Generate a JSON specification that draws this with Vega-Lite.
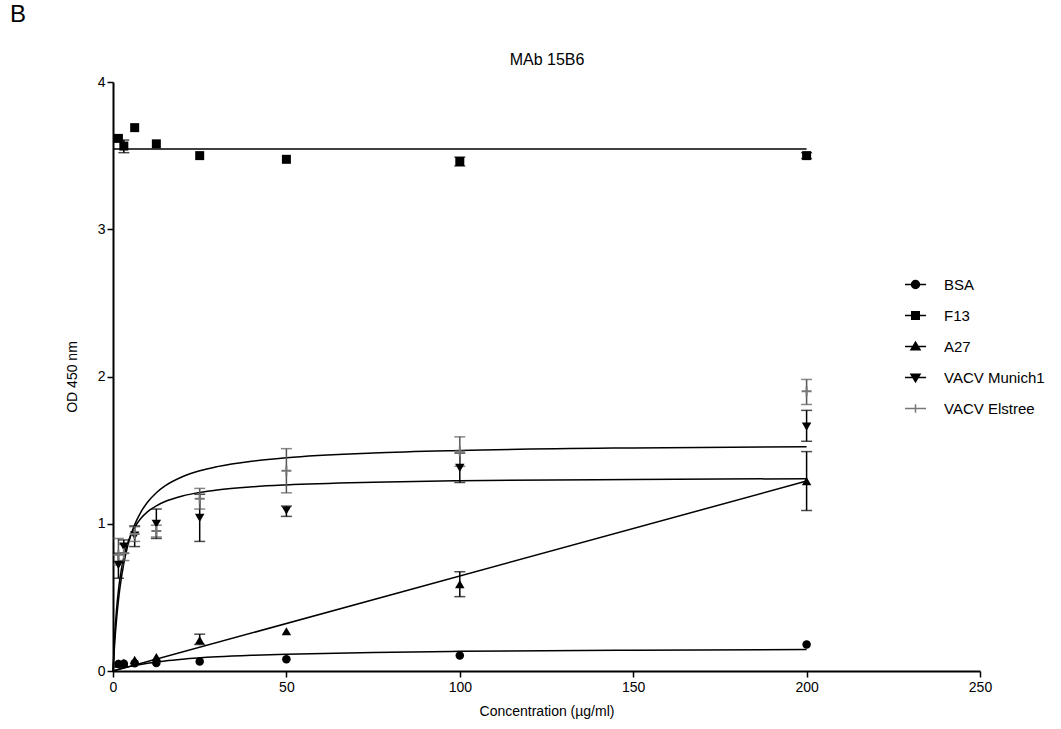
{
  "$schema": "https://vega.github.io/schema/vega-lite/v6.json",
  "autosize": {"type": "none"},
  "padding": {"left": 113, "top": 82, "right": 81, "bottom": 58},
  "width": 867,
  "height": 589,
  "background": "white",
  "config": {
    "font": "Liberation Sans",
    "view": {"stroke": null},
    "axis": {
      "grid": false,
      "domainColor": "black",
      "domainWidth": 2,
      "tickColor": "black",
      "tickWidth": 1.5,
      "tickSize": 6,
      "labelFont": "Liberation Sans",
      "labelFontSize": 14,
      "labelColor": "black",
      "titleFont": "Liberation Sans",
      "titleFontSize": 14,
      "titleFontWeight": "normal",
      "titleColor": "black"
    },
    "legend": {
      "labelFont": "Liberation Sans",
      "labelFontSize": 15,
      "labelColor": "black"
    }
  },
  "title": {
    "text": "B",
    "anchor": "start",
    "frame": "group",
    "fontSize": 24,
    "fontWeight": "normal",
    "color": "black",
    "font": "Liberation Sans",
    "dx": -103,
    "offset": 24
  },
  "datasets": {
    "points": [
      {"series": "BSA", "conc": 1.5625, "od": 0.048},
      {"series": "BSA", "conc": 3.125, "od": 0.05},
      {"series": "BSA", "conc": 6.25, "od": 0.052},
      {"series": "BSA", "conc": 12.5, "od": 0.055},
      {"series": "BSA", "conc": 25, "od": 0.065},
      {"series": "BSA", "conc": 50, "od": 0.08},
      {"series": "BSA", "conc": 100, "od": 0.105},
      {"series": "BSA", "conc": 200, "od": 0.18},
      {"series": "F13", "conc": 1.5625, "od": 3.617},
      {"series": "F13", "conc": 3.125, "od": 3.565, "lo": 3.52, "hi": 3.606},
      {"series": "F13", "conc": 6.25, "od": 3.69},
      {"series": "F13", "conc": 12.5, "od": 3.58},
      {"series": "F13", "conc": 25, "od": 3.5},
      {"series": "F13", "conc": 50, "od": 3.475},
      {"series": "F13", "conc": 100, "od": 3.46, "lo": 3.43, "hi": 3.49},
      {"series": "F13", "conc": 200, "od": 3.5, "lo": 3.48, "hi": 3.52},
      {"series": "A27", "conc": 1.5625, "od": 0.05},
      {"series": "A27", "conc": 3.125, "od": 0.055},
      {"series": "A27", "conc": 6.25, "od": 0.075},
      {"series": "A27", "conc": 12.5, "od": 0.095},
      {"series": "A27", "conc": 25, "od": 0.21, "lo": 0.18, "hi": 0.25},
      {"series": "A27", "conc": 50, "od": 0.27},
      {"series": "A27", "conc": 100, "od": 0.59, "lo": 0.505, "hi": 0.674},
      {"series": "A27", "conc": 200, "od": 1.29, "lo": 1.09, "hi": 1.49},
      {"series": "VACV Munich1", "conc": 1.5625, "od": 0.72, "lo": 0.63, "hi": 0.8},
      {"series": "VACV Munich1", "conc": 3.125, "od": 0.845, "lo": 0.8, "hi": 0.89},
      {"series": "VACV Munich1", "conc": 6.25, "od": 0.92, "lo": 0.845, "hi": 0.985},
      {"series": "VACV Munich1", "conc": 12.5, "od": 1.0, "lo": 0.9, "hi": 1.1},
      {"series": "VACV Munich1", "conc": 25, "od": 1.04, "lo": 0.88, "hi": 1.2},
      {"series": "VACV Munich1", "conc": 50, "od": 1.09, "lo": 1.05, "hi": 1.12},
      {"series": "VACV Munich1", "conc": 100, "od": 1.38, "lo": 1.28, "hi": 1.48},
      {"series": "VACV Munich1", "conc": 200, "od": 1.66, "lo": 1.56, "hi": 1.77},
      {"series": "VACV Elstree", "conc": 1.5625, "od": 0.79, "lo": 0.72, "hi": 0.9},
      {"series": "VACV Elstree", "conc": 3.125, "od": 0.8, "lo": 0.75, "hi": 0.86},
      {"series": "VACV Elstree", "conc": 6.25, "od": 0.93, "lo": 0.88, "hi": 0.98},
      {"series": "VACV Elstree", "conc": 12.5, "od": 0.95, "lo": 0.91, "hi": 0.99},
      {"series": "VACV Elstree", "conc": 25, "od": 1.17, "lo": 1.1, "hi": 1.24},
      {"series": "VACV Elstree", "conc": 50, "od": 1.36, "lo": 1.21, "hi": 1.51},
      {"series": "VACV Elstree", "conc": 100, "od": 1.49, "lo": 1.39, "hi": 1.59},
      {"series": "VACV Elstree", "conc": 200, "od": 1.9, "lo": 1.81, "hi": 1.98}
    ],
    "curves": [
      {"series": "BSA", "conc": 0, "od": 0},
      {"series": "BSA", "conc": 1, "od": 0.0076},
      {"series": "BSA", "conc": 2, "od": 0.0145},
      {"series": "BSA", "conc": 4, "od": 0.0267},
      {"series": "BSA", "conc": 6.25, "od": 0.0381},
      {"series": "BSA", "conc": 10, "od": 0.0533},
      {"series": "BSA", "conc": 15, "od": 0.0686},
      {"series": "BSA", "conc": 20, "od": 0.08},
      {"series": "BSA", "conc": 30, "od": 0.096},
      {"series": "BSA", "conc": 40, "od": 0.1067},
      {"series": "BSA", "conc": 50, "od": 0.1143},
      {"series": "BSA", "conc": 75, "od": 0.1263},
      {"series": "BSA", "conc": 100, "od": 0.1333},
      {"series": "BSA", "conc": 150, "od": 0.1412},
      {"series": "BSA", "conc": 200, "od": 0.1455},
      {"series": "F13", "conc": 0, "od": 3.545},
      {"series": "F13", "conc": 200, "od": 3.545},
      {"series": "A27", "conc": 0, "od": 0},
      {"series": "A27", "conc": 200, "od": 1.29},
      {"series": "VACV Munich1", "conc": 0, "od": 0},
      {"series": "VACV Munich1", "conc": 0.5, "od": 0.244},
      {"series": "VACV Munich1", "conc": 1, "od": 0.4125},
      {"series": "VACV Munich1", "conc": 1.5625, "od": 0.548},
      {"series": "VACV Munich1", "conc": 2, "od": 0.629},
      {"series": "VACV Munich1", "conc": 3.125, "od": 0.775},
      {"series": "VACV Munich1", "conc": 4, "od": 0.852},
      {"series": "VACV Munich1", "conc": 5, "od": 0.917},
      {"series": "VACV Munich1", "conc": 6.25, "od": 0.976},
      {"series": "VACV Munich1", "conc": 8, "od": 1.035},
      {"series": "VACV Munich1", "conc": 10, "od": 1.082},
      {"series": "VACV Munich1", "conc": 12.5, "od": 1.122},
      {"series": "VACV Munich1", "conc": 15, "od": 1.151},
      {"series": "VACV Munich1", "conc": 20, "od": 1.189},
      {"series": "VACV Munich1", "conc": 25, "od": 1.213},
      {"series": "VACV Munich1", "conc": 30, "od": 1.23},
      {"series": "VACV Munich1", "conc": 40, "od": 1.251},
      {"series": "VACV Munich1", "conc": 50, "od": 1.264},
      {"series": "VACV Munich1", "conc": 75, "od": 1.282},
      {"series": "VACV Munich1", "conc": 100, "od": 1.292},
      {"series": "VACV Munich1", "conc": 150, "od": 1.301},
      {"series": "VACV Munich1", "conc": 200, "od": 1.306},
      {"series": "VACV Elstree", "conc": 0, "od": 0},
      {"series": "VACV Elstree", "conc": 0.5, "od": 0.194},
      {"series": "VACV Elstree", "conc": 1, "od": 0.344},
      {"series": "VACV Elstree", "conc": 1.5625, "od": 0.478},
      {"series": "VACV Elstree", "conc": 2, "od": 0.564},
      {"series": "VACV Elstree", "conc": 3.125, "od": 0.731},
      {"series": "VACV Elstree", "conc": 4, "od": 0.827},
      {"series": "VACV Elstree", "conc": 5, "od": 0.912},
      {"series": "VACV Elstree", "conc": 6.25, "od": 0.994},
      {"series": "VACV Elstree", "conc": 8, "od": 1.078},
      {"series": "VACV Elstree", "conc": 10, "od": 1.148},
      {"series": "VACV Elstree", "conc": 12.5, "od": 1.211},
      {"series": "VACV Elstree", "conc": 15, "od": 1.257},
      {"series": "VACV Elstree", "conc": 20, "od": 1.319},
      {"series": "VACV Elstree", "conc": 25, "od": 1.36},
      {"series": "VACV Elstree", "conc": 30, "od": 1.388},
      {"series": "VACV Elstree", "conc": 40, "od": 1.425},
      {"series": "VACV Elstree", "conc": 50, "od": 1.449},
      {"series": "VACV Elstree", "conc": 75, "od": 1.481},
      {"series": "VACV Elstree", "conc": 100, "od": 1.498},
      {"series": "VACV Elstree", "conc": 150, "od": 1.515},
      {"series": "VACV Elstree", "conc": 200, "od": 1.523}
    ]
  },
  "resolve": {"axis": {"x": "independent"}},
  "layer": [
    {
      "data": {"name": "curves"},
      "mark": {"type": "line", "color": "black", "strokeWidth": 1.5, "interpolate": "monotone"},
      "encoding": {
        "x": {"field": "conc", "type": "quantitative", "scale": {"domain": [0, 250], "nice": false, "zero": true},
              "axis": {"values": [0, 50, 100, 150, 200, 250], "format": "d", "title": "Concentration (µg/ml)", "labelPadding": 3, "titlePadding": 10, "labelFlush": false}},
        "y": {"field": "od", "type": "quantitative", "scale": {"domain": [0, 4], "nice": false},
              "axis": {"values": [0, 1, 2, 3, 4], "format": "d", "title": "OD 450 nm", "labelPadding": 2, "titlePadding": 18, "labelFlush": false}},
        "detail": {"field": "series"}
      }
    },
    {
      "data": {"name": "points"},
      "transform": [{"filter": "isValid(datum.lo)"}],
      "mark": {"type": "rule", "strokeWidth": 1.5},
      "encoding": {
        "x": {"field": "conc", "type": "quantitative",
              "axis": {"orient": "top", "title": "MAb 15B6", "domain": false, "ticks": false, "labels": false, "titleFontSize": 16, "titlePadding": 15}},
        "y": {"field": "lo", "type": "quantitative", "title": "OD 450 nm"},
        "y2": {"field": "hi"},
        "stroke": {"condition": {"test": "datum.series === 'VACV Elstree'", "value": "#555555"}, "value": "black"}
      }
    },
    {
      "data": {"name": "points"},
      "transform": [{"filter": "isValid(datum.lo)"}],
      "mark": {"type": "tick", "orient": "horizontal", "size": 11, "thickness": 1.5},
      "encoding": {
        "x": {"field": "conc", "type": "quantitative", "axis": null},
        "y": {"field": "lo", "type": "quantitative", "title": "OD 450 nm"},
        "color": {"condition": {"test": "datum.series === 'VACV Elstree'", "value": "#555555"}, "value": "black"}
      }
    },
    {
      "data": {"name": "points"},
      "transform": [{"filter": "isValid(datum.hi)"}],
      "mark": {"type": "tick", "orient": "horizontal", "size": 11, "thickness": 1.5},
      "encoding": {
        "x": {"field": "conc", "type": "quantitative", "axis": null},
        "y": {"field": "hi", "type": "quantitative", "title": "OD 450 nm"},
        "color": {"condition": {"test": "datum.series === 'VACV Elstree'", "value": "#555555"}, "value": "black"}
      }
    },
    {
      "data": {"name": "points"},
      "transform": [{"filter": "datum.series === 'BSA'"}],
      "mark": {"type": "point", "shape": "circle", "filled": true, "color": "black", "size": 72, "opacity": 1},
      "encoding": {
        "x": {"field": "conc", "type": "quantitative", "axis": null},
        "y": {"field": "od", "type": "quantitative", "title": "OD 450 nm"}
      }
    },
    {
      "data": {"name": "points"},
      "transform": [{"filter": "datum.series === 'F13'"}],
      "mark": {"type": "point", "shape": "square", "filled": true, "color": "black", "size": 81, "opacity": 1},
      "encoding": {
        "x": {"field": "conc", "type": "quantitative", "axis": null},
        "y": {"field": "od", "type": "quantitative", "title": "OD 450 nm"}
      }
    },
    {
      "data": {"name": "points"},
      "transform": [{"filter": "datum.series === 'A27'"}],
      "mark": {"type": "point", "shape": "triangle-up", "filled": true, "color": "black", "size": 90, "opacity": 1},
      "encoding": {
        "x": {"field": "conc", "type": "quantitative", "axis": null},
        "y": {"field": "od", "type": "quantitative", "title": "OD 450 nm"}
      }
    },
    {
      "data": {"name": "points"},
      "transform": [{"filter": "datum.series === 'VACV Munich1'"}],
      "mark": {"type": "point", "shape": "triangle-down", "filled": true, "color": "black", "size": 90, "opacity": 1},
      "encoding": {
        "x": {"field": "conc", "type": "quantitative", "axis": null},
        "y": {"field": "od", "type": "quantitative", "title": "OD 450 nm"}
      }
    },
    {
      "data": {"name": "points"},
      "transform": [{"filter": "datum.series === 'VACV Elstree'"}],
      "mark": {"type": "point", "shape": "M-1,0H1M0,-1V1", "filled": false, "stroke": "#777777", "strokeWidth": 2, "size": 100, "opacity": 1},
      "encoding": {
        "x": {"field": "conc", "type": "quantitative", "axis": null},
        "y": {"field": "od", "type": "quantitative", "title": "OD 450 nm"}
      }
    },
    {
      "data": {"name": "points"},
      "mark": {"type": "point", "filled": true, "opacity": 0, "size": 100, "strokeWidth": 1.5},
      "encoding": {
        "x": {"field": "conc", "type": "quantitative", "axis": null},
        "y": {"field": "od", "type": "quantitative", "title": "OD 450 nm"},
        "shape": {
          "field": "series", "type": "nominal",
          "scale": {
            "domain": ["BSA", "F13", "A27", "VACV Munich1", "VACV Elstree"],
            "range": [
              "M-2.1,0H2.1M0.8,0A0.8,0.8,0,1,1,-0.8,0A0.8,0.8,0,1,1,0.8,0Z",
              "M-2.1,0H2.1M-0.75,-0.75H0.75V0.75H-0.75Z",
              "M-2.1,0H2.1M0,-0.85L0.9,0.65H-0.9Z",
              "M-2.1,0H2.1M-0.9,-0.65H0.9L0,0.85Z",
              "M-2.1,0H2.1M0,-0.85V0.85"
            ]
          },
          "legend": {
            "title": null,
            "orient": "none",
            "legendX": 795,
            "legendY": 195,
            "padding": 0,
            "symbolSize": 100,
            "symbolStrokeWidth": 1.5,
            "symbolOpacity": 1,
            "labelOffset": 21,
            "rowPadding": 15,
            "encode": {"symbols": {"update": {"opacity": {"value": 1}}}}
          }
        },
        "fill": {
          "field": "series", "type": "nominal",
          "scale": {"domain": ["BSA", "F13", "A27", "VACV Munich1", "VACV Elstree"], "range": ["black", "black", "black", "black", "#777777"]},
          "legend": {"title": null, "orient": "none", "legendX": 795, "legendY": 195, "symbolOpacity": 1}
        },
        "stroke": {
          "field": "series", "type": "nominal",
          "scale": {"domain": ["BSA", "F13", "A27", "VACV Munich1", "VACV Elstree"], "range": ["black", "black", "black", "black", "#777777"]},
          "legend": {"title": null, "orient": "none", "legendX": 795, "legendY": 195, "symbolOpacity": 1}
        }
      }
    }
  ]
}
